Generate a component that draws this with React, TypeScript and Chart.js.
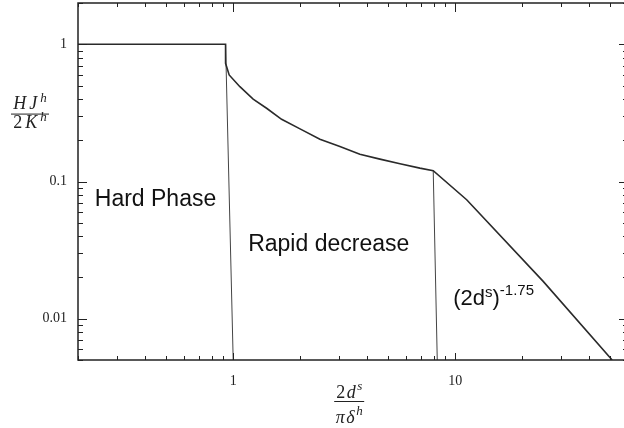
import React, { useEffect, useRef } from "react";
import { Chart, registerables } from "chart.js";

Chart.register(...registerables);

// Main curve (hard phase plateau, rapid decrease, power-law tail)
const curveX = [0.2, 0.924, 0.924, 0.959, 1.072, 1.23, 1.414, 1.652, 2.0, 2.458, 3.024, 3.72, 4.58, 5.64, 6.93, 7.96, 11.26, 24.9, 50.9];
const curveY = [1, 1, 0.727, 0.598, 0.491, 0.398, 0.342, 0.284, 0.242, 0.2035, 0.18, 0.158, 0.1456, 0.1345, 0.1252, 0.12, 0.0736, 0.0187, 0.005];

// Thin boundary lines
const boundary1X = [0.924, 1.0];
const boundary1Y = [1, 0.005];
const boundary2X = [7.96, 8.3];
const boundary2Y = [0.12, 0.005];

// Axis ticks
const xTickValues = [1, 10];
const xTickLabels = ["1", "10"];
const yTickValues = [0.01, 0.1, 1];
const yTickLabels = ["0.01", "0.1", "1"];
const xMinorTicks = [0.2, 0.3, 0.4, 0.5, 0.6, 0.7, 0.8, 0.9, 2, 3, 4, 5, 6, 7, 8, 9, 20, 30, 40, 50];
const yMinorTicks = [0.005, 0.006, 0.007, 0.008, 0.009, 0.02, 0.03, 0.04, 0.05, 0.06, 0.07, 0.08, 0.09, 0.2, 0.3, 0.4, 0.5, 0.6, 0.7, 0.8, 0.9, 2];

// Region annotations (anchored in data coordinates)
const annotationTexts = ["Hard Phase", "Rapid decrease"];
const annotationX = [0.238, 1.168];
const annotationY = [0.0658, 0.0309];
const powerLabelX = 9.79;
const powerLabelY = 0.01267;

// Axis title anchors
const xTitleAnchor = 3.33;
const yTitleAnchor = 0.31;

const SERIF = '"Liberation Serif", "DejaVu Serif", serif';
const SANS = '"Liberation Sans", Arial, sans-serif';

type Part = { t: string; it?: boolean; sup?: boolean };

function partFont(p: Part, size: number) {
  const s = p.sup ? Math.round(size * 0.7) : size;
  return `${p.it ? "italic " : ""}${s}px ${SERIF}`;
}

function partsWidth(ctx: CanvasRenderingContext2D, parts: Part[], size: number, gap: number) {
  let w = 0;
  parts.forEach((p, i) => {
    ctx.font = partFont(p, size);
    w += ctx.measureText(p.t).width + (i > 0 ? gap : 0);
  });
  return w;
}

function drawParts(ctx: CanvasRenderingContext2D, parts: Part[], cx: number, baseline: number, size: number, gap: number) {
  const w = partsWidth(ctx, parts, size, gap);
  let x = cx - w / 2;
  ctx.textAlign = "left";
  ctx.textBaseline = "alphabetic";
  parts.forEach((p, i) => {
    if (i > 0) x += gap;
    ctx.font = partFont(p, size);
    ctx.fillText(p.t, x, baseline - (p.sup ? size * 0.42 : 0));
    x += ctx.measureText(p.t).width;
  });
}

function drawFraction(
  ctx: CanvasRenderingContext2D,
  cx: number,
  barY: number,
  num: Part[],
  den: Part[],
  size: number,
  barW: number,
  numOff: number,
  denOff: number,
  gap: number
) {
  ctx.fillStyle = "#222";
  drawParts(ctx, num, cx, barY - numOff, size, gap);
  drawParts(ctx, den, cx, barY + denOff, size, gap);
  ctx.strokeStyle = "#222";
  ctx.lineWidth = 1;
  ctx.beginPath();
  ctx.moveTo(cx - barW / 2, barY);
  ctx.lineTo(cx + barW / 2, barY);
  ctx.stroke();
}

const framePlugin = {
  id: "frameTicks",
  afterDraw(chart: any) {
    const { ctx, chartArea: a, scales } = chart;
    const x = scales.x;
    const y = scales.y;
    ctx.save();
    ctx.strokeStyle = "#222";
    ctx.lineWidth = 1.5;
    ctx.strokeRect(a.left, a.top, a.right - a.left, a.bottom - a.top);
    ctx.lineWidth = 1;
    const seg = (x1: number, y1: number, x2: number, y2: number) => {
      ctx.beginPath();
      ctx.moveTo(x1, y1);
      ctx.lineTo(x2, y2);
      ctx.stroke();
    };
    xTickValues.forEach((v) => {
      const p = Math.round(x.getPixelForValue(v)) + 0.5;
      seg(p, a.bottom, p, a.bottom - 7);
      seg(p, a.top, p, a.top + 9);
    });
    xMinorTicks.forEach((v) => {
      const p = Math.round(x.getPixelForValue(v)) + 0.5;
      seg(p, a.bottom, p, a.bottom - 4);
      seg(p, a.top, p, a.top + 4);
    });
    yTickValues.forEach((v) => {
      const p = Math.round(y.getPixelForValue(v)) + 0.5;
      seg(a.left, p, a.left + 9, p);
      seg(a.right, p, a.right - 9, p);
    });
    yMinorTicks.forEach((v) => {
      const p = Math.round(y.getPixelForValue(v)) + 0.5;
      seg(a.left, p, a.left + 5, p);
      seg(a.right, p, a.right - 5, p);
    });

    // Region annotations
    ctx.fillStyle = "#111";
    ctx.textAlign = "left";
    ctx.textBaseline = "alphabetic";
    ctx.font = `23px ${SANS}`;
    annotationTexts.forEach((t, i) => {
      ctx.fillText(t, x.getPixelForValue(annotationX[i]), y.getPixelForValue(annotationY[i]));
    });
    // (2d^s)^-1.75
    let px = x.getPixelForValue(powerLabelX);
    const by = y.getPixelForValue(powerLabelY);
    const pieces: { t: string; sup: boolean; r: number }[] = [
      { t: "(2d", sup: false, r: 0 },
      { t: "s", sup: true, r: 8 },
      { t: ")", sup: false, r: 0 },
      { t: "-1.75", sup: true, r: 10 },
    ];
    pieces.forEach((p) => {
      ctx.font = p.sup ? `15px ${SANS}` : `22px ${SANS}`;
      ctx.fillText(p.t, px, by - p.r);
      px += ctx.measureText(p.t).width;
    });

    // Axis titles (fractions)
    const xc = x.getPixelForValue(xTitleAnchor);
    drawFraction(
      ctx,
      xc,
      a.bottom + 41.5,
      [{ t: "2" }, { t: "d", it: true }, { t: "s", it: true, sup: true }],
      [{ t: "π", it: true }, { t: "δ", it: true }, { t: "h", it: true, sup: true }],
      18,
      30,
      4,
      21,
      1.5
    );
    const yc = y.getPixelForValue(yTitleAnchor);
    drawFraction(
      ctx,
      a.left - 48,
      yc,
      [{ t: "H", it: true }, { t: "J", it: true }, { t: "h", it: true, sup: true }],
      [{ t: "2" }, { t: "K", it: true }, { t: "h", it: true, sup: true }],
      18,
      38,
      5,
      14,
      3
    );
    ctx.restore();
  },
};

const toPoints = (xs: number[], ys: number[]) => xs.map((v, i) => ({ x: v, y: ys[i] }));

export default function App() {
  const ref = useRef<HTMLCanvasElement | null>(null);
  useEffect(() => {
    if (!ref.current) return;
    const tickFont = { family: SERIF, size: 14 };
    const chart = new Chart(ref.current, {
      type: "line",
      data: {
        datasets: [
          {
            data: toPoints(curveX, curveY),
            borderColor: "#2a2a2a",
            borderWidth: 1.6,
            pointRadius: 0,
            tension: 0,
            fill: false,
          },
          {
            data: toPoints(boundary1X, boundary1Y),
            borderColor: "#444",
            borderWidth: 1,
            pointRadius: 0,
            fill: false,
          },
          {
            data: toPoints(boundary2X, boundary2Y),
            borderColor: "#444",
            borderWidth: 1,
            pointRadius: 0,
            fill: false,
          },
        ],
      },
      options: {
        responsive: false,
        animation: false,
        maintainAspectRatio: false,
        layout: { padding: { top: 3, right: 4, left: 0, bottom: 0 } },
        plugins: { legend: { display: false }, tooltip: { enabled: false } },
        scales: {
          x: {
            type: "logarithmic",
            min: 0.2,
            max: 60,
            grid: { display: false, drawTicks: false },
            border: { display: false },
            afterBuildTicks: (s: any) => {
              s.ticks = xTickValues.map((v) => ({ value: v }));
            },
            afterFit: (s: any) => {
              s.height = 68;
              s.paddingLeft = 0;
              s.paddingRight = 0;
            },
            ticks: {
              autoSkip: false,
              maxRotation: 0,
              padding: 13,
              color: "#222",
              font: tickFont,
              callback: (v: any) => {
                const i = xTickValues.indexOf(Number(v));
                return i >= 0 ? xTickLabels[i] : "";
              },
            },
          },
          y: {
            type: "logarithmic",
            min: 0.005,
            max: 2,
            grid: { display: false, drawTicks: false },
            border: { display: false },
            afterBuildTicks: (s: any) => {
              s.ticks = yTickValues.map((v) => ({ value: v }));
            },
            afterFit: (s: any) => {
              s.width = 78;
              s.paddingTop = 0;
              s.paddingBottom = 0;
            },
            ticks: {
              autoSkip: false,
              padding: 11,
              color: "#222",
              font: tickFont,
              callback: (v: any) => {
                const i = yTickValues.indexOf(Number(v));
                return i >= 0 ? yTickLabels[i] : "";
              },
            },
          },
        },
      } as any,
      plugins: [framePlugin],
    });
    return () => chart.destroy();
  }, []);

  return (
    <div style={{ position: "absolute", left: 0, top: 0, width: 624, height: 428, overflow: "hidden", background: "#fff" }}>
      <canvas ref={ref} width={632} height={428} style={{ display: "block" }} />
    </div>
  );
}
